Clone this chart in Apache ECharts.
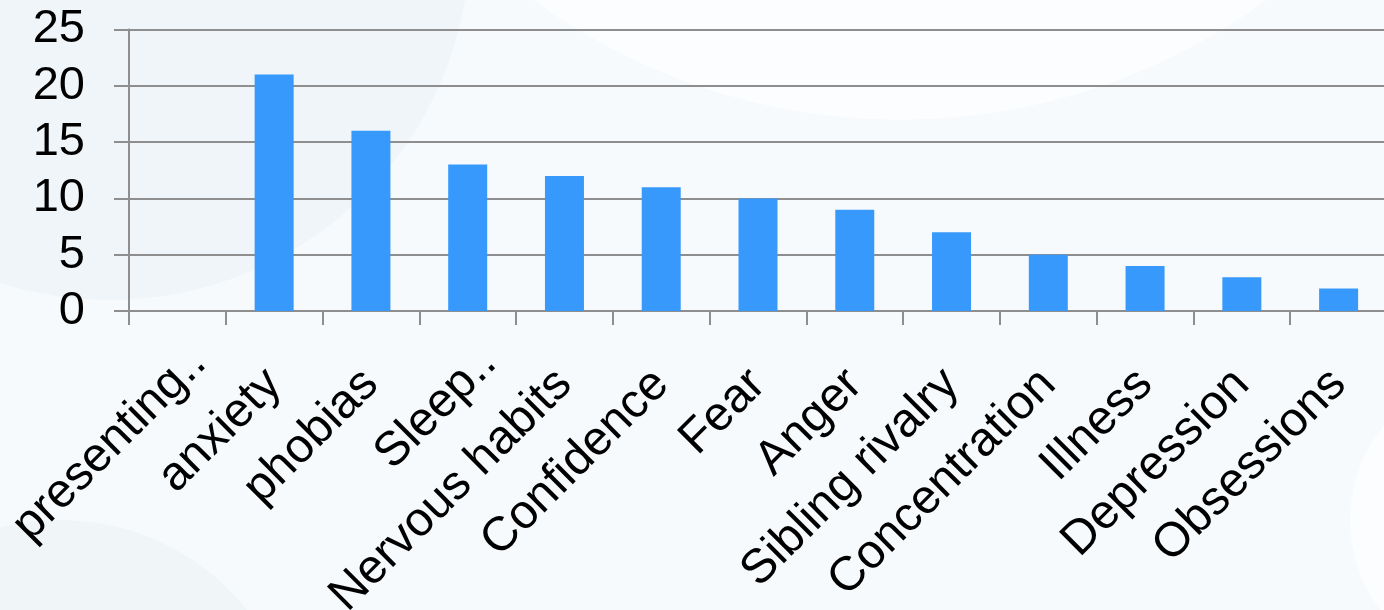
<!DOCTYPE html>
<html>
<head>
<meta charset="utf-8">
<script src="https://cdn.jsdelivr.net/npm/echarts@6/dist/echarts.min.js"></script>
<style>
html,body{margin:0;padding:0;background:#f5f9fb;}
#chart{width:1384px;height:610px;}
</style>
</head>
<body>
<div id="chart"></div>
<script>
const categories = ['presenting..', 'anxiety', 'phobias', 'Sleep..', 'Nervous habits', 'Confidence', 'Fear', 'Anger', 'Sibling rivalry', 'Concentration', 'Illness', 'Depression', 'Obsessions'];
const counts = [0, 21, 16, 13, 12, 11, 10, 9, 7, 5, 4, 3, 2];
const yTicks = [0, 5, 10, 15, 20, 25];
const truncated = ['presenting..', 'Sleep..'];

const chart = echarts.init(document.getElementById('chart'), null, {renderer: 'canvas'});
const font = 'Liberation Sans, Arial, sans-serif';
const xData = categories.map(c => truncated.indexOf(c) >= 0
  ? {value: c, textStyle: {padding: [0, -30, 0, 0]}}
  : c);
chart.setOption({
  backgroundColor: '#f6fafc',
  animation: false,
  graphic: [
    {type: 'circle', z: -10, shape: {cx: 110, cy: -60, r: 360}, style: {fill: '#eff5f8'}, silent: true},
    {type: 'circle', z: -10, shape: {cx: 900, cy: -500, r: 620}, style: {fill: '#ffffff', opacity: 0.55}, silent: true},
    {type: 'circle', z: -10, shape: {cx: 60, cy: 760, r: 240}, style: {fill: '#f0f6f8'}, silent: true},
    {type: 'circle', z: -10, shape: {cx: 1500, cy: 520, r: 150}, style: {fill: '#ffffff', opacity: 0.6}, silent: true}
  ],
  grid: {left: 129, right: -3, top: 29.5, bottom: 299, containLabel: false, outerBoundsMode: 'none'},
  xAxis: {
    type: 'category',
    data: xData,
    axisLine: {show: true, lineStyle: {color: '#8e8e8e', width: 2}},
    axisTick: {show: true, alignWithLabel: false, length: 14, lineStyle: {color: '#8e8e8e', width: 2}},
    axisLabel: {
      interval: 0, rotate: 45, margin: 66,
      color: '#000', fontFamily: font, fontSize: 48
    },
    splitLine: {show: false}
  },
  yAxis: {
    type: 'value',
    min: yTicks[0], max: yTicks[yTicks.length - 1], interval: 5,
    axisLine: {show: true, lineStyle: {color: '#8e8e8e', width: 2}},
    axisTick: {show: true, length: 15, lineStyle: {color: '#8e8e8e', width: 2}},
    axisLabel: {color: '#000', fontFamily: font, fontSize: 47, margin: 44},
    splitLine: {show: true, lineStyle: {color: '#8e8e8e', width: 2}}
  },
  series: [{
    type: 'bar',
    data: counts,
    barWidth: 39,
    itemStyle: {color: '#3899fd'}
  }]
});
</script>
</body>
</html>
